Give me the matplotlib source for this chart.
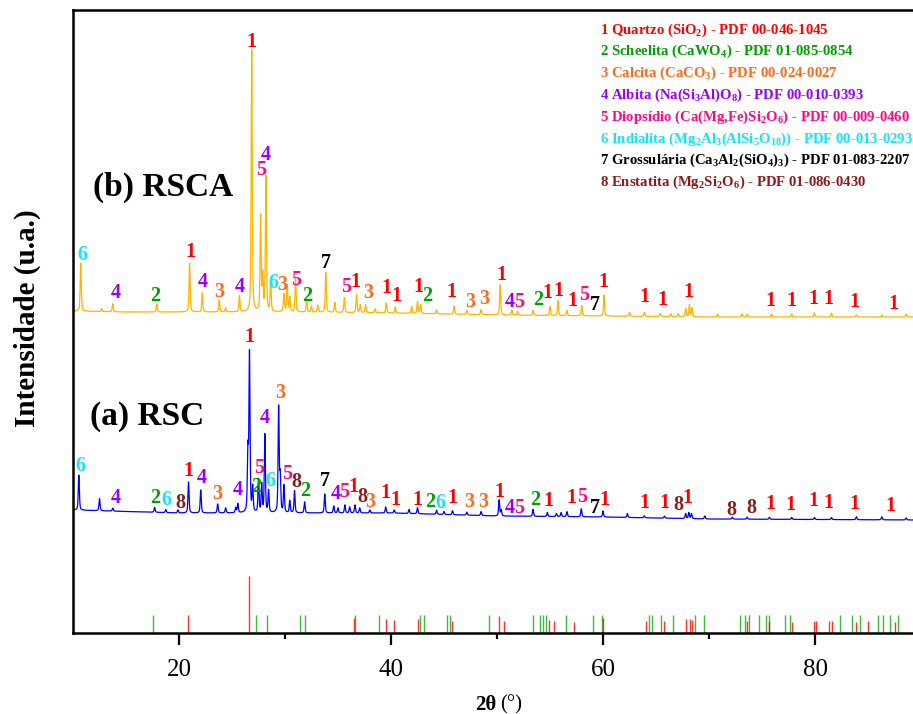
import numpy as np
import matplotlib
matplotlib.use("Agg")
import matplotlib.pyplot as plt

plt.rcParams['font.family'] = ['Liberation Serif', 'DejaVu Serif']
plt.rcParams['mathtext.fontset'] = 'custom'
plt.rcParams['mathtext.rm'] = 'Liberation Serif:bold'
plt.rcParams['mathtext.it'] = 'Liberation Serif:bold:italic'
plt.rcParams['mathtext.bf'] = 'Liberation Serif:bold'
plt.rcParams['mathtext.default'] = 'rm'

# fases identificadas (cor de cada número)
phase_colors = {'1': '#FF0000', '2': '#00A000', '3': '#FF6A1A', '4': '#9900FF',
                '5': '#FF0A7F', '6': '#14E6F5', '7': '#000000', '8': '#8B1A1A'}
legend_lines = [
    ('1', r'1 Quartzo (SiO$_2$) - PDF 00-046-1045'),
    ('2', r'2 Scheelita (CaWO$_4$) - PDF 01-085-0854'),
    ('3', r'3 Calcita (CaCO$_3$) - PDF 00-024-0027'),
    ('4', r'4 Albita (Na(Si$_3$Al)O$_8$) - PDF 00-010-0393'),
    ('5', r'5 Diopsídio (Ca(Mg,Fe)Si$_2$O$_6$) - PDF 00-009-0460'),
    ('6', r'6 Indialita (Mg$_2$Al$_3$(AlSi$_5$O$_{18}$)) - PDF 00-013-0293'),
    ('7', r'7 Grossulária (Ca$_3$Al$_2$(SiO$_4$)$_3$) - PDF 01-083-2207'),
    ('8', r'8 Enstatita (Mg$_2$Si$_2$O$_6$) - PDF 01-086-0430'),
]

# RSCA: picos (2theta, intensidade) e linha de base
rsca_pos = [10.73, 12.7, 13.75, 17.9, 21.0, 22.2, 23.8, 24.4, 25.7, 26.86, 27.7, 27.9,
            28.2, 28.65, 29.9, 30.2, 30.45, 31.0, 32.05, 32.5, 33.1, 33.85, 34.7, 35.6,
            36.75, 37.1, 37.6, 38.5, 39.55, 40.4, 41.95, 42.5, 42.8, 44.3, 45.95, 47.15,
            48.5, 50.3, 51.4, 51.95, 53.4, 55.0, 55.75, 56.6, 58.0, 60.1, 62.5, 63.9,
            65.4, 66.4, 67.1, 67.8, 68.15, 68.4, 70.8, 73.1, 73.6, 75.9, 77.8, 79.95,
            81.55, 83.9, 86.3, 88.6]
rsca_int = [48, 3, 8, 8, 49, 19, 12, 4, 16, 262, 95, 35,
            135, 30, 18, 27, 15, 33, 12, 6, 7, 40, 10, 15,
            18, 8, 8, 4, 10, 6, 7, 12, 9, 4, 8, 4,
            5, 30, 5, 4, 5, 9, 15, 5, 10, 21, 4, 4,
            3, 3, 3, 8, 12, 9, 3, 3, 3, 3, 3, 4,
            4, 2, 2, 3]
rsca_base_t = [10, 15, 30, 40, 50, 60, 70, 90]
rsca_base_y = [322, 321, 321, 320, 318, 317, 316, 316]

# RSC
rsc_pos = [10.55, 12.5, 13.75, 17.7, 18.75, 19.9, 20.9, 22.05, 23.65, 24.4, 25.35, 25.55,
           26.5, 26.65, 26.95, 27.5, 27.8, 28.1, 28.45, 29.4, 29.55, 29.9, 30.45, 30.9,
           31.85, 33.75, 34.6, 35.0, 35.65, 36.1, 36.6, 37.05, 38.0, 39.5, 40.3, 41.7,
           42.5, 44.3, 45.0, 45.8, 47.15, 48.5, 50.2, 50.4, 53.4, 54.75, 55.6, 56.05,
           56.6, 57.95, 60.0, 62.3, 63.9, 65.8, 67.8, 68.1, 68.35, 69.6, 72.2, 73.6,
           75.7, 77.8, 79.95, 81.55, 83.9, 86.3, 88.6]
rsc_int = [35, 12, 3, 5, 3, 3, 31, 23, 9, 5, 5, 9,
           60, 158, 25, 33, 28, 78, 22, 105, 35, 27, 12, 22,
           11, 19, 7, 5, 8, 6, 8, 5, 3, 6, 3, 4,
           6, 4, 3, 4, 3, 4, 16, 6, 7, 4, 3, 4,
           5, 8, 6, 4, 2, 2, 5, 6, 5, 3, 2, 2,
           2, 2, 2, 2, 3, 3, 2]
rsc_base_t = [10, 20, 40, 50, 60, 70, 90]
rsc_base_y = [123, 120, 120, 117, 116, 114, 113]

# rótulos das fases sobre os picos: (2theta, altura, fase)
rsca_lab_t = [10.92, 14.03, 17.8, 21.1, 22.24, 23.84, 25.73, 26.86, 27.71, 28.18, 28.93,
              29.78, 31.1, 32.14, 33.84, 35.73, 36.67, 37.9, 39.6, 40.54, 42.6, 43.45,
              45.73, 47.43, 48.75, 50.44, 51.2, 52.14, 53.84, 54.78, 55.82, 57.14, 58.27,
              59.2, 60.05, 63.93, 65.63, 68.08, 75.8, 77.8, 79.88, 81.29, 83.74, 87.42]
rsca_lab_y = [378, 340, 337, 381, 351, 341, 346, 591, 463, 478, 350,
              348, 353, 337, 370, 346, 351, 340, 345, 337, 346, 337,
              341, 331, 334, 358, 331, 331, 333, 340, 342, 332, 338,
              328, 351, 336, 333, 341, 332, 332, 334, 334, 331, 329]
rsca_lab = list('6421434154' '6352751311' '1213314521' '1157111111' '1111')

rsc_lab_t = [10.73, 14.03, 17.8, 18.84, 20.16, 20.92, 22.14, 23.65, 25.54, 26.67, 29.59,
             28.08, 27.52, 27.24, 28.65, 30.25, 31.1, 31.95, 33.75, 34.78, 35.63, 36.48,
             37.33, 38.08, 39.5, 40.44, 42.52, 43.65, 44.69, 45.82, 47.42, 48.74, 50.25,
             51.2, 52.14, 53.56, 54.88, 57.05, 58.08, 59.2, 60.15, 63.93, 65.82, 67.14,
             67.99, 72.14, 74.03, 75.82, 77.7, 79.88, 81.29, 83.74, 87.14]
rsc_lab_y = [167, 135, 135, 133, 130, 162, 155, 139, 143, 296, 240,
             215, 165, 146, 152, 159, 151, 142, 152, 139, 141, 146,
             136, 131, 140, 133, 133, 131, 130, 135, 131, 131, 141,
             125, 125, 133, 132, 135, 136, 125, 133, 130, 130, 128,
             135, 123, 125, 129, 128, 132, 130, 129, 127]
rsc_lab = list('6426814341' '3452658274' '5183111261' '3314521157' '1118188111' '111')

# padrões de referência (barras)
quartz_t = [20.88, 26.65, 36.54, 39.5, 40.3, 42.5, 45.8, 50.2, 50.66, 54.9, 55.4, 57.3,
            60.03, 64.1, 65.8, 67.8, 68.2, 68.4, 73.55, 75.7, 77.8, 79.9, 80.1, 81.3,
            81.6, 83.9, 85.0, 87.5]
quartz_i = [18, 57, 15, 14, 13, 14, 12, 17, 12, 13, 12, 11,
            15, 12, 12, 14, 14, 13, 12, 12, 11, 12, 12, 12,
            12, 11, 12, 11]
scheel_t = [17.55, 27.3, 28.34, 31.39, 31.86, 36.57, 38.87, 42.77, 43.08, 45.32, 45.6,
            49.25, 53.4, 54.06, 54.3, 54.6, 56.5, 59.1, 59.9, 64.37, 64.65, 65.5, 66.6,
            68.7, 69.5, 72.9, 73.4, 73.8, 74.7, 75.4, 75.7, 77.2, 77.6, 82.4, 83.45,
            84.2, 85.9, 86.4, 87.1, 87.8]
scheel_i = [18] * len(scheel_t)


def profile(x, pos, inten, bt, by, fwhm=0.12, eta=0.5):
    y = np.interp(x, bt, by).astype(float)
    for p, h in zip(pos, inten):
        d = (x - p) / (fwhm / 2)
        y += h * (eta / (1 + d**2) + (1 - eta) * np.exp(-np.log(2) * d**2))
    return y


tt = np.arange(10, 90, 0.01)

fig = plt.figure(figsize=(9.13, 7.14), dpi=100)
ax = fig.add_axes([73 / 913, 81 / 714, 848 / 913, 623 / 714])

ax.plot(tt, profile(tt, rsca_pos, rsca_int, rsca_base_t, rsca_base_y),
        color='#FFB400', lw=0.9)
ax.plot(tt, profile(tt, rsc_pos, rsc_int, rsc_base_t, rsc_base_y),
        color='#0000FF', lw=0.9)

ax.vlines(scheel_t, 0, scheel_i, color='#00A000', lw=1.0, alpha=0.75)
ax.vlines(quartz_t, 0, quartz_i, color='#FF0000', lw=1.0, alpha=0.8)

for t, yy, c in zip(rsca_lab_t, rsca_lab_y, rsca_lab):
    ax.text(t, yy, c, color=phase_colors[c], fontsize=14.5, fontweight='bold',
            ha='center', va='center')
for t, yy, c in zip(rsc_lab_t, rsc_lab_y, rsc_lab):
    ax.text(t, yy, c, color=phase_colors[c], fontsize=14.5, fontweight='bold',
            ha='center', va='center')

ax.text(11.9, 633 - 187, '(b) RSCA', fontsize=24, fontweight='bold', va='center')
ax.text(11.6, 633 - 416, '(a) RSC', fontsize=24, fontweight='bold', va='center')

for i, (c, s) in enumerate(legend_lines):
    fig.text(600 / 913, 1 - (30 + i * 21.8) / 714, s, color=phase_colors[c],
             fontsize=10.6, fontweight='bold', va='center')

ax.set_xlim(10, 90)
ax.set_ylim(0, 623)
ax.set_xticks([20, 40, 60, 80])
ax.set_xticks([30, 50, 70], minor=True)
ax.set_yticks([])
ax.tick_params(axis='x', which='major', direction='out', length=8.5, width=1.6,
               labelsize=18, pad=10)
ax.tick_params(axis='x', which='minor', direction='out', length=4.5, width=1.6)
for sp in ax.spines.values():
    sp.set_linewidth(1.8)

fig.text(27 / 913, 1 - 318 / 714, 'Intensidade (u.a.)', rotation=90, fontsize=21,
         fontweight='bold', ha='center', va='center')
fig.text(496 / 913, 1 - 705 / 714, '2θ', fontsize=15, fontweight='bold',
         ha='right', va='center')
fig.text(500 / 913, 1 - 705 / 714, '(°)', fontsize=15, ha='left', va='center')

fig.savefig('out.png', dpi=100)
